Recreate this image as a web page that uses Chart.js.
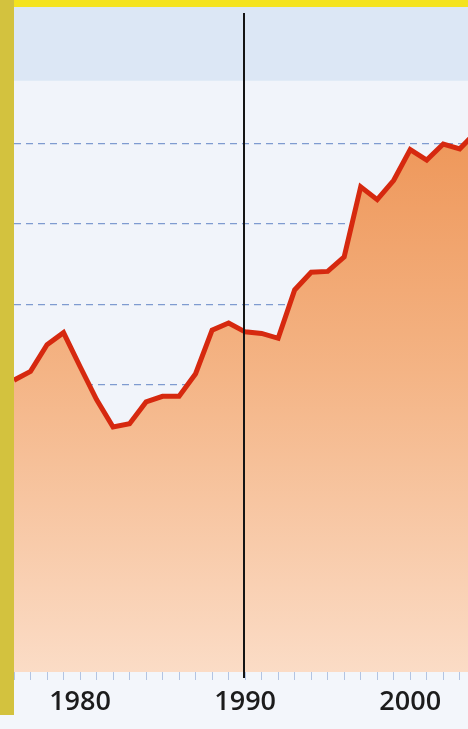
<!DOCTYPE html>
<html>
<head>
<meta charset="utf-8">
<script src="https://cdn.jsdelivr.net/npm/chart.js@4.4.1/dist/chart.umd.min.js"></script>
<style>
  html, body { margin: 0; padding: 0; background: #f3f6fb; }
  #wrap { position: relative; width: 468px; height: 729px; }
</style>
</head>
<body>
<div id="wrap"><canvas id="chart" width="468" height="729"></canvas></div>
<script>
// Yearly series, 1976-2004 (last point runs off the right edge)
const years = [1976, 1977, 1978, 1979, 1980, 1981, 1982, 1983, 1984, 1985,
  1986, 1987, 1988, 1989, 1990, 1991, 1992, 1993, 1994, 1995,
  1996, 1997, 1998, 1999, 2000, 2001, 2002, 2003, 2004];
const values = [40.6, 41.7, 45.0, 46.5, 42.3, 38.2, 34.8, 35.2, 37.9, 38.6,
  38.6, 41.4, 46.8, 47.7, 46.6, 46.4, 45.8, 51.8, 54.0, 54.1,
  55.9, 64.6, 63.0, 65.4, 69.2, 67.9, 69.9, 69.3, 71.4];
const gridValues = [40, 50, 60, 70];
const labelYears = [1980, 1990, 2000];
const markerYear = 1990;
const bandFrom = 77.75;

const points = years.map((y, i) => ({ x: y, y: values[i] }));

// Page furniture: yellow rule on top, olive strip on the left, blue band
const backdrop = {
  id: 'backdrop',
  beforeDraw(chart) {
    const { ctx, chartArea, scales } = chart;
    ctx.save();
    ctx.fillStyle = '#f3f6fb';
    ctx.fillRect(0, 0, chart.width, chart.height);
    ctx.fillStyle = '#f1f4fa';
    ctx.fillRect(chartArea.left, chartArea.top, chartArea.width, chartArea.height);
    const bandBottom = scales.y.getPixelForValue(bandFrom);
    ctx.fillStyle = '#dce7f5';
    ctx.fillRect(chartArea.left, chartArea.top, chartArea.width, bandBottom - chartArea.top);
    ctx.fillStyle = '#f4e31f';
    ctx.fillRect(0, 0, chart.width, chartArea.top);
    ctx.fillStyle = '#d3c23e';
    ctx.fillRect(0, 0, chartArea.left, 715);
    ctx.restore();
  },
  afterDatasetsDraw(chart) {
    const { ctx, scales } = chart;
    const x = Math.round(scales.x.getPixelForValue(markerYear)) - 1;
    ctx.save();
    ctx.strokeStyle = '#141414';
    ctx.lineWidth = 2;
    ctx.beginPath();
    ctx.moveTo(x, 13);
    ctx.lineTo(x, 678);
    ctx.stroke();
    ctx.restore();
  },
};

function areaFill(context) {
  const { chart } = context;
  const area = chart.chartArea;
  if (!area) return '#f3b07c';
  const g = chart.ctx.createLinearGradient(0, area.top + 120, 0, area.bottom);
  g.addColorStop(0, '#ee9658');
  g.addColorStop(0.45, '#f4b485');
  g.addColorStop(1, '#fbdcc6');
  return g;
}

new Chart(document.getElementById('chart'), {
  type: 'line',
  data: {
    datasets: [{
      data: points,
      borderColor: '#d6290f',
      borderWidth: 5,
      borderJoinStyle: 'miter',
      backgroundColor: areaFill,
      fill: 'start',
      tension: 0,
      pointRadius: 0,
    }],
  },
  options: {
    responsive: false,
    animation: false,
    layout: { padding: { left: 14, top: 7, right: 0, bottom: 0 } },
    plugins: { legend: { display: false }, tooltip: { enabled: false } },
    scales: {
      x: {
        type: 'linear',
        min: 1976,
        max: 2003.5,
        afterFit(scale) { scale.height = 57; },
        afterBuildTicks(scale) {
          const t = [];
          for (let y = 1976; y <= 2003; y += 1) t.push({ value: y });
          scale.ticks = t;
        },
        border: { display: false },
        grid: { drawOnChartArea: false, tickLength: 8, color: '#b3c4e2', lineWidth: 1 },
        ticks: {
          autoSkip: false,
          maxRotation: 0,
          padding: 6,
          color: '#1c1c1c',
          font: { family: 'Open Sans', size: 27, weight: '600' },
          callback: (v) => (labelYears.includes(v) ? String(v) : ''),
        },
      },
      y: {
        min: 4.4,
        max: 86.9,
        afterFit(scale) { scale.width = 0; },
        afterBuildTicks(scale) { scale.ticks = gridValues.map((v) => ({ value: v })); },
        border: { display: false, dash: [7, 5] },
        grid: { drawTicks: false, color: '#7f9bd0', lineWidth: 1.2 },
        ticks: { display: false },
      },
    },
  },
  plugins: [backdrop],
});
</script>
</body>
</html>
